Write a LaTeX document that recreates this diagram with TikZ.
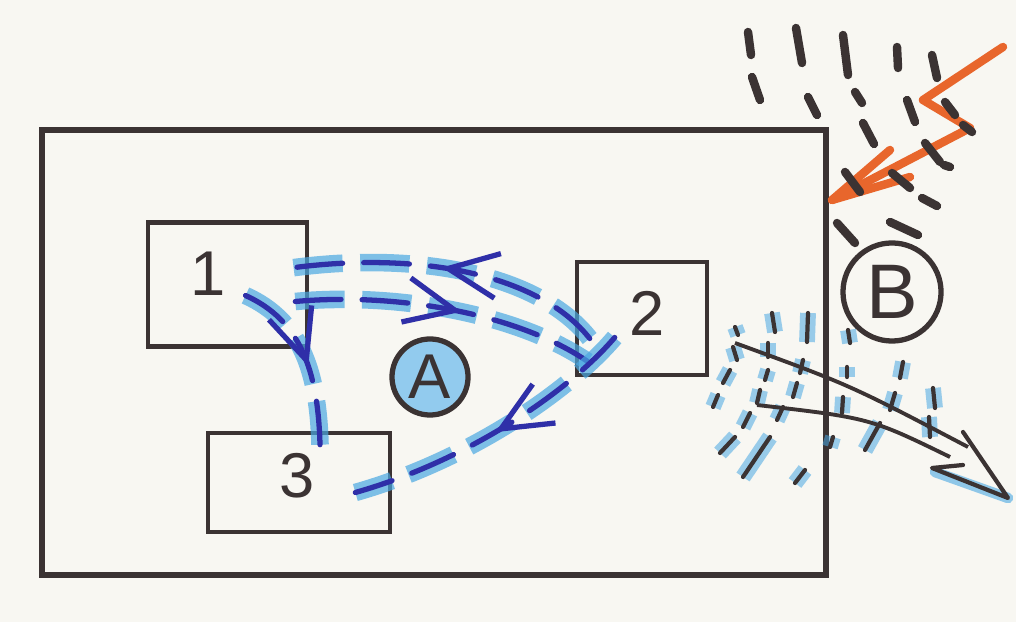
\documentclass[tikz,border=0pt]{standalone}
\usepackage{fontspec}
\setmainfont{Liberation Sans}
\usetikzlibrary{arrows.meta,decorations.markings,positioning}
\definecolor{ink}{HTML}{3B3333}
\definecolor{pen}{HTML}{2F2FA8}
\definecolor{glow}{HTML}{4AA8E2}
\definecolor{flash}{HTML}{E8662C}
\definecolor{paper}{HTML}{F8F7F2}

\begin{document}
\begin{tikzpicture}[x=0.01cm, y=-0.01cm,
    box/.style={draw=ink, line width=1.3pt, inner sep=0pt},
    num/.style={text=ink, font=\fontsize{18}{18}\selectfont},
    tag/.style={draw=ink, circle, line width=1.5pt, inner sep=0pt, text=ink},
    flow/.style={draw=pen, line width=1.5pt, line cap=round, dash pattern=on 13pt off 6pt,
        preaction={draw=glow, line width=5pt, opacity=0.7, dash pattern=on 14pt off 5pt}},
    flowtip/.style={postaction={decorate, decoration={markings,
        mark=at position #1 with {\arrow[pen, solid, line width=1.5pt]{Straight Barb[length=5mm, width=4.5mm]}}}}},
    rain/.style={draw=ink, line width=2.4pt, line cap=round},
    spray/.style={draw=ink, line width=1.2pt, line cap=round,
        preaction={draw=glow, line width=4.5pt, opacity=0.55}}]
  \useasboundingbox (0,0) rectangle (1016,622);
  \fill[paper] (0,0) rectangle (1016,622);

  \node[draw=ink, line width=1.8pt, minimum width=7.84cm, minimum height=4.45cm, inner sep=0pt] (room) at (434,352.5) {};

  \node[box, minimum width=1.59cm, minimum height=1.24cm] (box1) at (227.5,284.5) {};
  \node[num] (n1) at ([shift={(-19,-11)}]box1.center) {1};
  \node[box, minimum width=1.30cm, minimum height=1.13cm] (box2) at (642,318.5) {};
  \node[num] (n2) at ([shift={(5,-5)}]box2.center) {2};
  \node[box, minimum width=1.82cm, minimum height=0.99cm] (box3) at (299,482.5) {};
  \node[num] (n3) at ([shift={(-2,-7)}]box3.center) {3};

  \node[tag, fill=glow!60, minimum size=0.76cm, font=\fontsize{18}{18}\selectfont] (tagA) at (430,377) {A};
  \node[tag, minimum size=0.98cm, font=\fontsize{22}{22}\selectfont] (tagB) at (892,292) {B};

  \draw[flow, flowtip=0.52] ([shift={(15,20)}]box2.west) .. controls (540,275) and (420,250) .. ([shift={(-22,-16)}]box1.east);
  \draw[flow, flowtip=0.55] ([shift={(-14,17)}]box1.east) .. controls (400,292) and (520,315) .. ([shift={(13,43)}]box2.west);
  \draw[flow, flowtip=0.55] ([shift={(18,11)}]box1.center) .. controls (300,320) and (318,370) .. ([shift={(21,14)}]box3.north);
  \draw[flow, flowtip=0.5] ([shift={(40,19)}]box2.west) .. controls (570,390) and (470,460) .. ([shift={(-37,10)}]box3.east);

  \draw[flash, line width=2.4pt, line join=round, line cap=round] (1003,47) -- (923,100) -- (970,128) -- (832,200) coordinate (hit);
  \draw[flash, line width=2.4pt, line join=round, line cap=round] (890,150) -- (hit) -- (910,177);

  \foreach \xa/\ya/\xb/\yb in {748/32/751/55, 752/77/760/100, 796/28/802/63, 808/97/817/115,
      843/35/848/75, 855/92/862/103, 863/123/874/144, 897/47/898/68, 907/100/915/122,
      932/55/937/78, 945/102/955/115, 963/125/972/132, 925/143/940/162, 944/165/950/167,
      845/172/860/192, 892/173/910/188, 922/198/937/206, 837/223/855/243, 890/222/918/235}
    \draw[rain] (\xa,\ya) -- (\xb,\yb);

  \foreach \xa/\ya/\xb/\yb in {735/327/738/335, 733/347/737/360, 730/370/723/383, 718/395/713/407,
      735/437/720/453, 772/313/775/332, 768/343/768/357, 768/370/765/380, 760/390/757/403,
      750/413/743/427, 770/437/743/477, 808/313/807/342, 803/360/800/373, 797/383/793/397,
      783/407/777/420, 805/470/795/483, 848/330/850/343, 847/367/847/377, 843/397/842/413,
      833/437/830/447, 903/362/900/378, 895/393/890/410, 880/423/865/450, 933/388/935/408,
      929/417/930/437}
    \draw[spray] (\xa,\ya) -- (\xb,\yb);

  \draw[ink, line width=1.1pt] (735,343) .. controls (850,385) .. (968,447);
  \draw[ink, line width=1.1pt] (757,405) .. controls (870,418) .. (950,457);
  \draw[glow, line width=3pt, opacity=0.6, line cap=round] (1008,498) -- (935,472);
  \draw[ink, line width=1.2pt, line join=round, line cap=round] (963,432) -- (1008,498) -- (932,468) -- (963,465);
\end{tikzpicture}
\end{document}
